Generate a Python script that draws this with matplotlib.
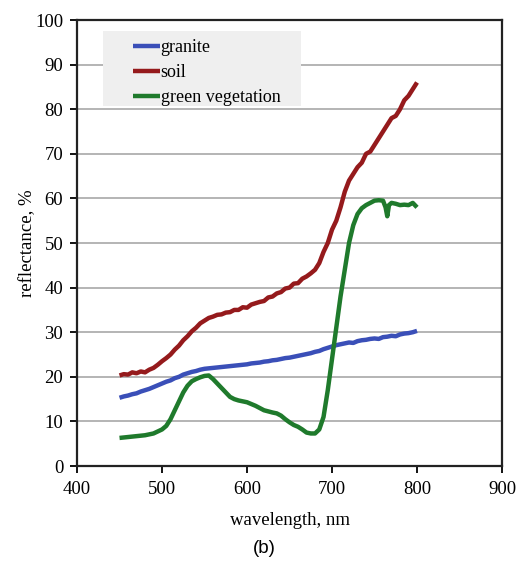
import matplotlib
matplotlib.use("Agg")
import matplotlib.pyplot as plt
from matplotlib.patches import Rectangle

# ---- data ----
wl_granite = [450, 455, 460, 465, 470, 475, 480, 485, 490, 495, 500, 505, 510, 515, 520, 525, 530, 535, 540,
              545, 550, 555, 560, 565, 570, 575, 580, 585, 590, 595, 600, 605, 610, 615, 620, 625, 630, 635,
              640, 645, 650, 655, 660, 665, 670, 675, 680, 685, 690, 695, 700, 705, 710, 715, 720, 725, 730,
              735, 740, 745, 750, 755, 760, 765, 770, 775, 780, 785, 790, 795, 800]
granite = [15.3, 15.6, 15.8, 16.1, 16.3, 16.7, 17.0, 17.3, 17.7, 18.1, 18.5, 18.9, 19.2, 19.7, 20.0, 20.5, 20.8,
           21.1, 21.3, 21.6, 21.8, 21.9, 22.0, 22.1, 22.2, 22.3, 22.4, 22.5, 22.6, 22.7, 22.8, 23.0, 23.1, 23.2,
           23.4, 23.5, 23.7, 23.8, 24.0, 24.2, 24.3, 24.5, 24.7, 24.9, 25.1, 25.3, 25.6, 25.8, 26.2, 26.5, 26.8,
           27.1, 27.3, 27.5, 27.7, 27.6, 28.0, 28.2, 28.3, 28.5, 28.6, 28.5, 28.9, 29.0, 29.2, 29.1, 29.5, 29.7,
           29.8, 30.0, 30.3]

wl_soil = [450, 455, 460, 465, 470, 475, 480, 485, 490, 495, 500, 505, 510, 515, 520, 525, 530, 535, 540, 545,
           550, 555, 560, 565, 570, 575, 580, 585, 590, 595, 600, 605, 610, 615, 620, 625, 630, 635, 640, 645,
           650, 655, 660, 665, 670, 675, 680, 685, 690, 695, 700, 705, 710, 715, 720, 725, 730, 735, 740, 745,
           750, 755, 760, 765, 770, 775, 780, 785, 790, 795, 800]
soil = [20.3, 20.6, 20.5, 21.0, 20.8, 21.2, 21.0, 21.6, 22.0, 22.7, 23.5, 24.2, 25.0, 26.1, 27.0, 28.2, 29.1,
        30.2, 31.0, 32.0, 32.6, 33.2, 33.5, 33.9, 34.0, 34.4, 34.5, 35.0, 35.0, 35.6, 35.5, 36.2, 36.5, 36.8,
        37.0, 37.8, 38.0, 38.7, 39.0, 39.8, 40.0, 40.9, 41.0, 42.0, 42.5, 43.2, 44.0, 45.5, 48.0, 50.0, 53.0,
        55.0, 58.0, 61.5, 64.0, 65.5, 67.0, 68.0, 70.0, 70.5, 72.0, 73.5, 75.0, 76.5, 78.0, 78.5, 80.0, 82.0,
        83.0, 84.5, 86.0]

wl_veg = [450, 460, 470, 480, 490, 500, 505, 510, 515, 520, 525, 530, 535, 540, 545, 550, 555, 560, 565, 570,
          575, 580, 585, 590, 600, 610, 620, 630, 635, 640, 645, 650, 655, 660, 665, 670, 675, 680, 685, 690,
          695, 700, 705, 710, 715, 720, 725, 730, 735, 740, 745, 750, 755, 760, 763, 765, 767, 770, 775, 780,
          785, 790, 795, 800]
veg = [6.3, 6.5, 6.7, 6.9, 7.3, 8.2, 9.0, 10.5, 12.5, 14.5, 16.5, 18.0, 19.0, 19.5, 19.9, 20.2, 20.3, 19.5,
       18.5, 17.5, 16.5, 15.5, 15.0, 14.7, 14.3, 13.5, 12.5, 12.0, 11.8, 11.3, 10.5, 9.8, 9.2, 8.8, 8.2, 7.5,
       7.3, 7.3, 8.2, 11.0, 17.0, 24.0, 31.0, 38.0, 44.0, 50.0, 54.0, 56.5, 57.8, 58.5, 59.0, 59.5, 59.6, 59.5,
       58.0, 56.0, 58.5, 59.0, 58.8, 58.5, 58.6, 58.5, 59.0, 58.0]

series_names = ["granite", "soil", "green vegetation"]
series_colors = ["#3a4fb8", "#951a1c", "#1f7a2c"]

xticks = [400, 500, 600, 700, 800, 900]
yticks = list(range(0, 101, 10))

# ---- plotting ----
fig = plt.figure(figsize=(5.29, 5.61), dpi=100)
ax = fig.add_axes([0.1456, 0.1693, 0.8034, 0.795])

serif = ["Liberation Serif", "DejaVu Serif"]

for y in yticks[1:]:
    ax.axhline(y, color="#a8a8a8", lw=1.2, zorder=0)

lines = []
for wl, vals, name, col in zip([wl_granite, wl_soil, wl_veg], [granite, soil, veg], series_names, series_colors):
    ln, = ax.plot(wl, vals, color=col, lw=3.2, label=name, solid_capstyle="butt")
    lines.append(ln)

ax.set_xlim(400, 900)
ax.set_ylim(0, 100)
ax.set_xticks(xticks)
ax.set_yticks(yticks)
ax.tick_params(direction="out", length=5, width=1.3, labelsize=13.5)
ax.tick_params(axis="x", pad=6)
ax.tick_params(axis="y", pad=5)
for lab in ax.get_xticklabels() + ax.get_yticklabels():
    lab.set_fontfamily(serif)
for sp in ax.spines.values():
    sp.set_linewidth(1.6)
    sp.set_color("#222222")

ax.set_xlabel("wavelength, nm", fontsize=13.5, family=serif, labelpad=10)
ax.set_ylabel("reflectance, %", fontsize=13.5, family=serif, labelpad=-1)

# legend background
ax.add_patch(Rectangle((0.061, 0.808), 0.465, 0.168, transform=ax.transAxes,
                       facecolor="#efefef", edgecolor="none", zorder=1))
leg = ax.legend(handles=lines, loc="upper left", bbox_to_anchor=(0.097, 0.99), frameon=False,
                handlelength=1.5, handletextpad=0.05, labelspacing=0.45, borderpad=0.3,
                prop={"family": serif, "size": 13})
leg.set_zorder(3)

fig.text(0.5, 0.008, "(b)", ha="center", va="bottom", fontsize=13.5, family=["Liberation Sans", "DejaVu Sans"])

fig.savefig("out.png", dpi=100)
